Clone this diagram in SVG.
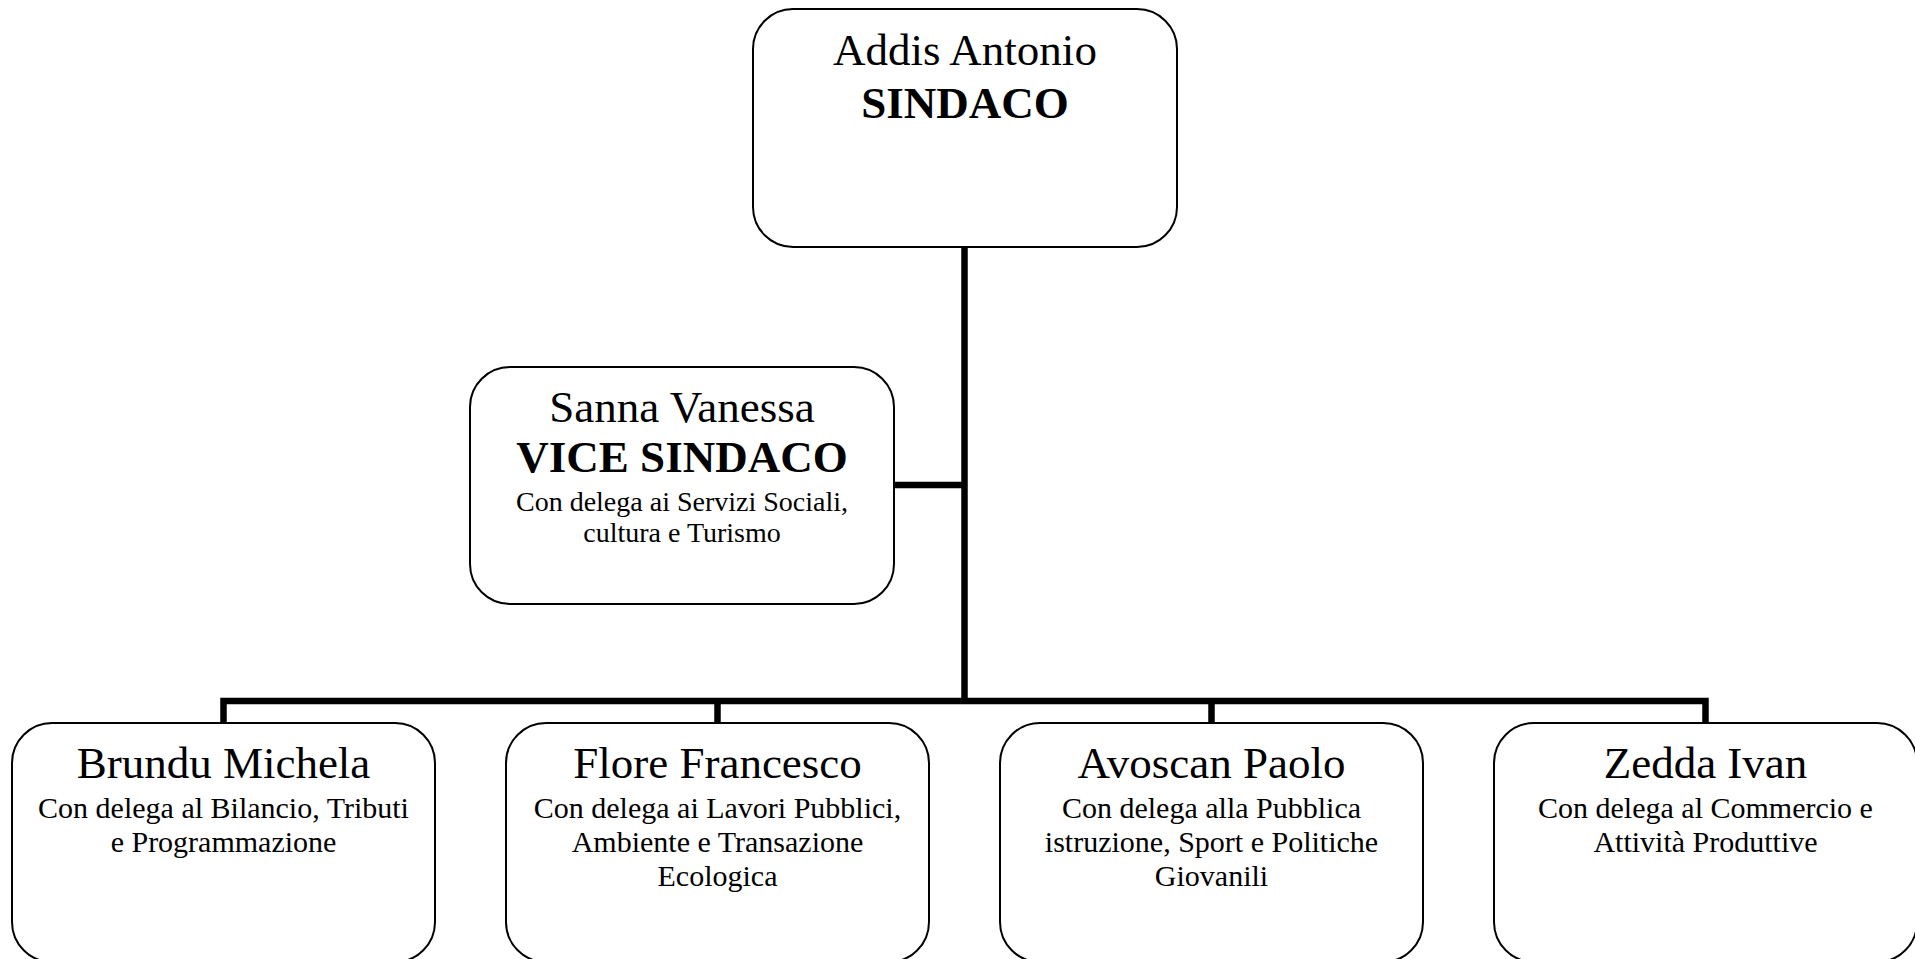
<svg xmlns="http://www.w3.org/2000/svg" width="1915" height="959" viewBox="0 0 1915 959">
<style>
.box{fill:#fff;stroke:#000;stroke-width:2}
.conn{fill:none;stroke:#000;stroke-width:6.5;stroke-linejoin:miter;stroke-linecap:butt}
text{font-family:"Liberation Serif","Times New Roman",serif;fill:#000;text-anchor:middle}
.nm{font-size:45px}
.bd{font-size:45px;font-weight:bold}
.sm{font-size:30px}
.vs{font-size:28px}
</style>
<rect width="1915" height="959" fill="#fff"/>
<g id="connectors">
<path class="conn" d="M964.5,247 V701"/>
<path class="conn" d="M894,485 H964.5"/>
<path class="conn" d="M223.5,724 V701 H1705.5 V724"/>
<path class="conn" d="M717.5,701 V724"/>
<path class="conn" d="M1211.5,701 V724"/>
</g>
<g id="sindaco">
<rect class="box" x="753" y="9" width="424" height="238" rx="40" ry="40"/>
<text class="nm" x="965" y="65">Addis Antonio</text>
<text class="bd" x="965" y="118">SINDACO</text>
</g>
<g id="vicesindaco">
<rect class="box" x="470" y="367" width="424" height="237" rx="40" ry="40"/>
<text class="nm" x="682" y="422">Sanna Vanessa</text>
<text class="bd" x="682" y="472">VICE SINDACO</text>
<text class="vs" x="682" y="511">Con delega ai Servizi Sociali,</text>
<text class="vs" x="682" y="542">cultura e Turismo</text>
</g>
<g id="brundu">
<rect class="box" x="12" y="723" width="423" height="239" rx="40" ry="40"/>
<text class="nm" x="223.5" y="778">Brundu Michela</text>
<text class="sm" x="223.5" y="818">Con delega al Bilancio, Tributi</text>
<text class="sm" x="223.5" y="852">e Programmazione</text>
</g>
<g id="flore">
<rect class="box" x="506" y="723" width="423" height="239" rx="40" ry="40"/>
<text class="nm" x="717.5" y="778">Flore Francesco</text>
<text class="sm" x="717.5" y="818">Con delega ai Lavori Pubblici,</text>
<text class="sm" x="717.5" y="852">Ambiente e Transazione</text>
<text class="sm" x="717.5" y="886">Ecologica</text>
</g>
<g id="avoscan">
<rect class="box" x="1000" y="723" width="423" height="239" rx="40" ry="40"/>
<text class="nm" x="1211.5" y="778">Avoscan Paolo</text>
<text class="sm" x="1211.5" y="818">Con delega alla Pubblica</text>
<text class="sm" x="1211.5" y="852">istruzione, Sport e Politiche</text>
<text class="sm" x="1211.5" y="886">Giovanili</text>
</g>
<g id="zedda">
<rect class="box" x="1494" y="723" width="423" height="239" rx="40" ry="40"/>
<text class="nm" x="1705.5" y="778">Zedda Ivan</text>
<text class="sm" x="1705.5" y="818">Con delega al Commercio e</text>
<text class="sm" x="1705.5" y="852">Attività Produttive</text>
</g>
</svg>
